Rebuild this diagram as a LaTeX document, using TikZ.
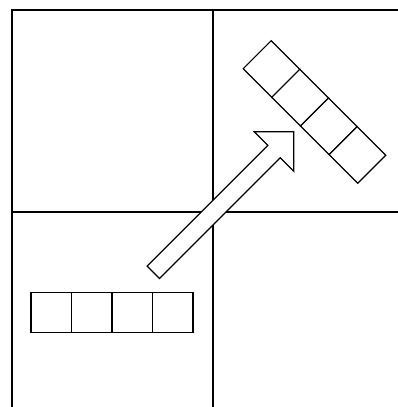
\documentclass[tikz,border=0pt]{standalone}
\usepackage{tikz}
\usetikzlibrary{positioning,calc}

\begin{document}
\begin{tikzpicture}[
    x=1pt, y=1pt,
    grid/.style={draw=black, line width=1.1pt},
    cell/.style={rectangle, draw=black, line width=1.2pt, fill=white,
        minimum width=40.5pt, minimum height=39.5pt, inner sep=0pt, outer sep=0pt},
    bigarrow/.style={draw=black, line width=1.2pt, fill=white, line join=miter}
]
\useasboundingbox (0,0) rectangle (398,407);

% Quadrant lines
\coordinate (tl) at (12,397);
\coordinate (mid) at (213,195);
\draw[grid] (398,397) -- (tl) -- (12,0);
\draw[grid] (mid |- tl) -- (mid |- 0,0);
\draw[grid] (tl |- mid) -- (398,195);

% Horizontal strip (lower left)
\node[cell] (h1) at (51.25,94.5) {};
\node[cell, right=0pt of h1] (h2) {};
\node[cell, right=0pt of h2] (h3) {};
\node[cell, right=0pt of h3] (h4) {};

% Arrow
\begin{scope}[shift={(153.3,134.7)}, rotate=45]
\draw[bigarrow] (0,-8.75) -- (170.7,-8.75) -- (170.7,-28) -- (198.7,0)
    -- (170.7,28) -- (170.7,8.75) -- (0,8.75) -- cycle;
\end{scope}

% Rotated strip (upper right)
\node[cell, rotate=-45] (d1) at (271.5,338) {};
\node[cell, rotate=-45, anchor=west] (d2) at (d1.east) {};
\node[cell, rotate=-45, anchor=west] (d3) at (d2.east) {};
\node[cell, rotate=-45, anchor=west] (d4) at (d3.east) {};

\end{tikzpicture}
\end{document}
